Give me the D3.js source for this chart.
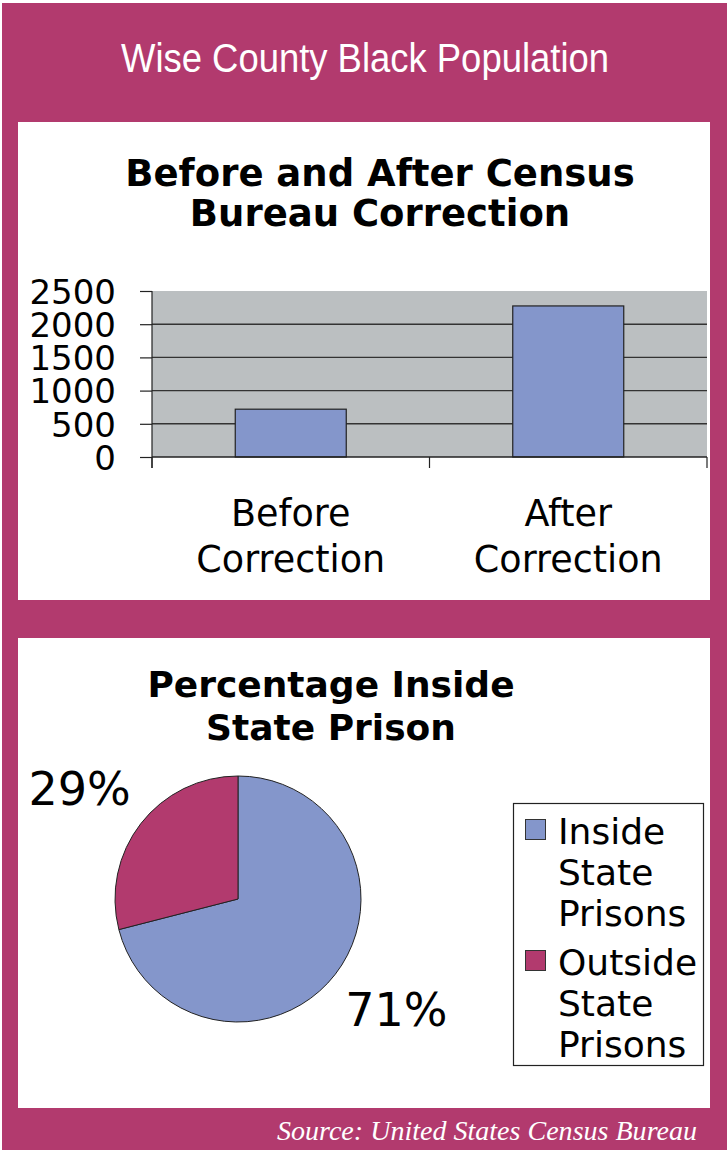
<!DOCTYPE html>
<html><head><meta charset="utf-8">
<script src="https://cdn.jsdelivr.net/npm/d3@7"></script>
<style>html,body{margin:0;padding:0;background:#fff;}svg{display:block;}</style>
</head><body>
<script>
// ---- data ----
const mainTitle = "Wise County Black Population";
const barTitle = ["Before and After Census", "Bureau Correction"];
const barCategories = [["Before", "Correction"], ["After", "Correction"]];
const barKeys = ["Before Correction", "After Correction"];
const barValues = [720, 2275];
const yTicks = [0, 500, 1000, 1500, 2000, 2500];
const pieTitle = ["Percentage Inside", "State Prison"];
const pieLabels = ["Inside State Prisons", "Outside State Prisons"];
const pieLegendLines = [["Inside", "State", "Prisons"], ["Outside", "State", "Prisons"]];
const pieValues = [71, 29];
const sourceText = "Source: United States Census Bureau";

const W = 727, H = 1150;
const magenta = "#B23A6E", blue = "#8496CB", gray = "#BBBFC1";

const svg = d3.select("body").append("svg").attr("width", W).attr("height", H);
svg.append("rect").attr("x", 0).attr("y", 0).attr("width", W).attr("height", H).attr("fill", "#fff");
svg.append("rect").attr("x", 2).attr("y", 3).attr("width", W - 2).attr("height", H - 3).attr("fill", magenta);

svg.append("text").attr("x", 365).attr("y", 72).attr("text-anchor", "middle")
  .attr("font-family", "Liberation Sans, Arial, sans-serif").attr("font-size", 40)
  .attr("textLength", 488).attr("lengthAdjust", "spacingAndGlyphs")
  .attr("fill", "#fff").text(mainTitle);

// panels
svg.append("rect").attr("x", 18).attr("y", 122).attr("width", 692).attr("height", 478).attr("fill", "#fff");
svg.append("rect").attr("x", 18).attr("y", 638).attr("width", 692).attr("height", 470).attr("fill", "#fff");

// ---- bar chart ----
const bt = svg.append("g").attr("font-family", "DejaVu Sans, Verdana, sans-serif").attr("font-weight", "bold")
  .attr("font-size", 37).attr("text-anchor", "middle").attr("fill", "#000");
barTitle.forEach((t, i) => bt.append("text").attr("x", 380).attr("y", 186 + i * 40).text(t));

const px0 = 152, px1 = 707, py0 = 291, py1 = 457;
const x = d3.scaleBand().domain(barKeys).range([px0, px1]).paddingInner(0.6).paddingOuter(0.3);
const xOuter = d3.scaleBand().domain(barKeys).range([px0, px1]);
const y = d3.scaleLinear().domain([0, 2500]).range([py1, py0]);

svg.append("rect").attr("x", px0).attr("y", py0).attr("width", px1 - px0).attr("height", py1 - py0).attr("fill", gray);

// gridlines
svg.append("g").selectAll("line").data(yTicks.filter(d => d > 0 && d < 2500)).join("line")
  .attr("x1", px0).attr("x2", px1).attr("y1", d => y(d)).attr("y2", d => y(d))
  .attr("stroke", "#333").attr("stroke-width", 1.4);

// bars
svg.append("g").selectAll("rect").data(barValues).join("rect")
  .attr("x", (d, i) => x(barKeys[i])).attr("width", x.bandwidth())
  .attr("y", d => y(d)).attr("height", d => py1 - y(d))
  .attr("fill", blue).attr("stroke", "#222").attr("stroke-width", 1.2);

// y axis
const yAxis = svg.append("g").attr("transform", `translate(${px0},0)`)
  .call(d3.axisLeft(y).tickValues(yTicks).tickSize(12).tickPadding(24).tickFormat(d3.format("d")));
yAxis.select(".domain").remove();
yAxis.selectAll(".tick line").attr("stroke", "#222").attr("stroke-width", 1.2);
yAxis.selectAll(".tick text").attr("font-family", "DejaVu Sans, Verdana, sans-serif").attr("font-size", 34).attr("fill", "#000").attr("dy", "0.36em");
svg.append("line").attr("x1", px0).attr("x2", px0).attr("y1", py0).attr("y2", py1 + 11).attr("stroke", "#222").attr("stroke-width", 1.2);

// x axis
svg.append("line").attr("x1", px0).attr("x2", px1).attr("y1", py1).attr("y2", py1).attr("stroke", "#222").attr("stroke-width", 1.4);
svg.append("g").selectAll("line").data([...barKeys.map(k => xOuter(k)), px1]).join("line")
  .attr("x1", d => d).attr("x2", d => d).attr("y1", py1).attr("y2", py1 + 11).attr("stroke", "#222").attr("stroke-width", 1.2);

const xl = svg.append("g").attr("font-family", "DejaVu Sans, Verdana, sans-serif").attr("font-size", 36.5)
  .attr("text-anchor", "middle").attr("fill", "#000");
barCategories.forEach((lines, i) => {
  const cx = x(barKeys[i]) + x.bandwidth() / 2;
  lines.forEach((t, j) => xl.append("text").attr("x", cx).attr("y", 526 + j * 46).text(t));
});

// ---- pie chart ----
const pt = svg.append("g").attr("font-family", "DejaVu Sans, Verdana, sans-serif").attr("font-weight", "bold")
  .attr("font-size", 36).attr("text-anchor", "middle").attr("fill", "#000");
pieTitle.forEach((t, i) => pt.append("text").attr("x", 331).attr("y", 697 + i * 43).text(t));

const cx = 238, cy = 899, r = 123;
const pie = d3.pie().sort(null).value(d => d);
const arcs = pie(pieValues);
const arc = d3.arc().innerRadius(0).outerRadius(r);
const colors = [blue, magenta];
const pg = svg.append("g").attr("transform", `translate(${cx},${cy})`);
pg.selectAll("path").data(arcs).join("path").attr("d", arc)
  .attr("fill", (d, i) => colors[i]).attr("stroke", "#222").attr("stroke-width", 1);
pg.selectAll("text").data(arcs).join("text")
  .attr("transform", d => `translate(${d3.pointRadial((d.startAngle + d.endAngle) / 2 - 0.05, r * 1.57)})`)
  .attr("text-anchor", "middle").attr("dy", "0.36em")
  .attr("font-family", "DejaVu Sans, Verdana, sans-serif").attr("font-size", 46).attr("fill", "#000")
  .text(d => d.data + "%");

// legend
svg.append("rect").attr("x", 513.5).attr("y", 803.5).attr("width", 190).attr("height", 262)
  .attr("fill", "#fff").attr("stroke", "#222").attr("stroke-width", 1.2);
const lg = svg.append("g").attr("font-family", "DejaVu Sans, Verdana, sans-serif").attr("font-size", 36).attr("fill", "#000");
pieLegendLines.forEach((lines, i) => {
  const top = 844 + i * 131;
  lg.append("rect").attr("x", 525.5).attr("y", top - 24.5).attr("width", 20).attr("height", 20)
    .attr("fill", colors[i]).attr("stroke", "#333").attr("stroke-width", 1);
  lines.forEach((t, j) => lg.append("text").attr("x", 558).attr("y", top + j * 41).text(t));
});

// source
svg.append("text").attr("x", 697).attr("y", 1140).attr("text-anchor", "end")
  .attr("font-family", "Liberation Serif, Times New Roman, serif").attr("font-style", "italic")
  .attr("font-size", 28).attr("fill", "#fff")
  .attr("textLength", 420).attr("lengthAdjust", "spacingAndGlyphs").text(sourceText);
</script>
</body></html>
